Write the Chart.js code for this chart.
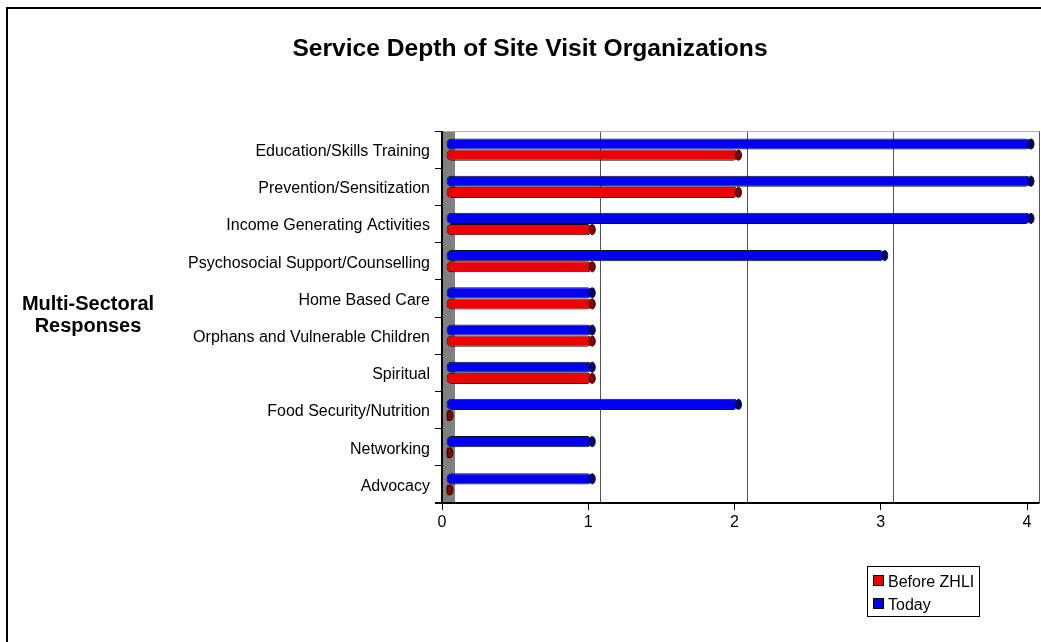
<!DOCTYPE html>
<html>
<head>
<meta charset="utf-8">
<script src="https://cdn.jsdelivr.net/npm/chart.js@4.4.1/dist/chart.umd.min.js"></script>
<style>
  html, body { margin: 0; padding: 0; background: #ffffff; }
  #wrap { position: relative; width: 1041px; height: 642px; }
  canvas { display: block; }
</style>
</head>
<body>
<div id="wrap"><canvas id="c" width="1041" height="642"></canvas></div>
<script>
const chartTitle = 'Service Depth of Site Visit Organizations';
const axisTitleLines = ['Multi-Sectoral', 'Responses'];
const categories = [
  'Education/Skills Training',
  'Prevention/Sensitization',
  'Income Generating Activities',
  'Psychosocial Support/Counselling',
  'Home Based Care',
  'Orphans and Vulnerable Children',
  'Spiritual',
  'Food Security/Nutrition',
  'Networking',
  'Advocacy'
];
const todayValues  = [4, 4, 4, 3, 1, 1, 1, 2, 1, 1];
const beforeValues = [2, 2, 1, 1, 1, 1, 1, 0, 0, 0];
const xTickValues = [0, 1, 2, 3, 4];
const seriesNames = ['Today', 'Before ZHLI'];

const FONT = "'Liberation Sans', Arial, sans-serif";
const DEPTH = 12;   // 3D back-plane offset
const BAR_SHIFT = 4;

const decor = {
  id: 'decor',
  beforeDraw(chart) {
    const ctx = chart.ctx;
    ctx.save();
    ctx.fillStyle = '#ffffff';
    ctx.fillRect(0, 0, chart.width, chart.height);
    // outer frame
    ctx.strokeStyle = '#000';
    ctx.lineWidth = 2;
    ctx.beginPath();
    ctx.moveTo(7, chart.height + 2);
    ctx.lineTo(7, 8);
    ctx.lineTo(chart.width + 2, 8);
    ctx.stroke();
    // title
    ctx.fillStyle = '#000';
    ctx.font = 'bold 24.6px ' + FONT;
    ctx.textAlign = 'center';
    ctx.textBaseline = 'alphabetic';
    ctx.fillText(chartTitle, 530, 56);
    // y-axis title (horizontal)
    ctx.font = 'bold 20px ' + FONT;
    ctx.fillText(axisTitleLines[0], 88, 310);
    ctx.fillText(axisTitleLines[1], 88, 332);
    ctx.restore();
  },
  beforeDatasetsDraw(chart) {
    const ctx = chart.ctx;
    const a = chart.chartArea;
    const xs = chart.scales.x;
    ctx.save();
    // floor / wall strip
    ctx.fillStyle = '#808080';
    ctx.fillRect(a.left, a.top, DEPTH + 1, a.bottom - a.top);
    // back-plane gridlines
    ctx.lineWidth = 1;
    xTickValues.slice(1).forEach(v => {
      const px = Math.round(xs.getPixelForValue(v) + DEPTH) + 0.5;
      ctx.strokeStyle = '#555';
      ctx.beginPath();
      ctx.moveTo(px, a.top);
      ctx.lineTo(px, a.bottom);
      ctx.stroke();
    });
    // top edge of back plane
    const rightEdge = Math.round(xs.getPixelForValue(xTickValues[xTickValues.length - 1]) + DEPTH) + 0.5;
    ctx.strokeStyle = '#b0b0b0';
    ctx.beginPath();
    ctx.moveTo(a.left, Math.round(a.top) + 0.5);
    ctx.lineTo(rightEdge, Math.round(a.top) + 0.5);
    ctx.stroke();
    // axis lines
    ctx.strokeStyle = '#000';
    ctx.lineWidth = 2;
    ctx.beginPath();
    ctx.moveTo(a.left - 7, a.bottom);
    ctx.lineTo(rightEdge, a.bottom);
    ctx.moveTo(a.left, a.top);
    ctx.lineTo(a.left, a.bottom);
    ctx.stroke();
    ctx.restore();
    // shift bars (3D depth)
    ctx.save();
    ctx.translate(BAR_SHIFT, 0);
  },
  afterDatasetsDraw(chart) {
    const ctx = chart.ctx;
    // end caps (dark ellipses) at bar ends
    chart.data.datasets.forEach((ds, di) => {
      const meta = chart.getDatasetMeta(di);
      meta.data.forEach(el => {
        const p = el.getProps(['x', 'y', 'base', 'height'], true);
        const h = p.height;
        ctx.beginPath();
        ctx.ellipse(p.x, p.y, 3, h / 2 - 0.5, 0, 0, Math.PI * 2);
        ctx.fillStyle = ds.capColor;
        ctx.fill();
        ctx.strokeStyle = '#111';
        ctx.lineWidth = 1;
        ctx.stroke();
      });
    });
    ctx.restore();
    // legend
    ctx.save();
    const lx = 867, ly = 566, lw = 112, lh = 50;
    ctx.fillStyle = '#fff';
    ctx.fillRect(lx, ly, lw, lh);
    ctx.strokeStyle = '#000';
    ctx.lineWidth = 1;
    ctx.strokeRect(lx + 0.5, ly + 0.5, lw, lh);
    ctx.font = '16px ' + FONT;
    ctx.textAlign = 'left';
    ctx.textBaseline = 'alphabetic';
    const order = [1, 0];
    order.forEach((di, i) => {
      const ds = chart.data.datasets[di];
      const y = ly + 9 + i * 23;
      ctx.fillStyle = ds.backgroundColor;
      ctx.fillRect(lx + 6.5, y + 0.5, 10, 10);
      ctx.strokeStyle = '#000';
      ctx.strokeRect(lx + 6.5, y + 0.5, 10, 10);
      ctx.fillStyle = '#000';
      ctx.fillText(ds.label, lx + 21, y + 12);
    });
    ctx.restore();
  }
};

new Chart(document.getElementById('c'), {
  type: 'bar',
  data: {
    labels: categories,
    datasets: [
      {
        label: seriesNames[0],
        data: todayValues,
        backgroundColor: '#0000f0',
        borderColor: '#111',
        borderWidth: 1,
        borderRadius: 5,
        borderSkipped: false,
        capColor: '#00007a',
        minBarLength: 4,
        clip: false
      },
      {
        label: seriesNames[1],
        data: beforeValues,
        backgroundColor: '#ee0000',
        borderColor: '#111',
        borderWidth: 1,
        borderRadius: 5,
        borderSkipped: false,
        capColor: '#8a0000',
        minBarLength: 4,
        clip: false
      }
    ]
  },
  options: {
    indexAxis: 'y',
    responsive: false,
    animation: false,
    devicePixelRatio: 1,
    categoryPercentage: 0.6,
    barPercentage: 1.0,
    layout: { padding: { top: 131, right: 14, bottom: 99, left: 0 } },
    plugins: {
      legend: { display: false },
      title: { display: false },
      tooltip: { enabled: false }
    },
    scales: {
      x: {
        min: 0,
        max: 4,
        afterBuildTicks(s) { s.ticks = xTickValues.map(v => ({ value: v })); },
        ticks: { color: '#000', font: { family: FONT, size: 16 }, padding: 3 },
        grid: { drawOnChartArea: false, drawTicks: true, tickLength: 7, color: '#000', lineWidth: 1 },
        border: { display: false },
        afterFit(s) { s.height = 40; }
      },
      y: {
        ticks: { color: '#000', font: { family: FONT, size: 16 }, padding: 5, autoSkip: false, labelOffset: 2 },
        grid: { drawOnChartArea: false, drawTicks: true, tickLength: 7, color: '#000', offset: true, lineWidth: 1 },
        border: { display: false },
        afterFit(s) { s.width = 442; }
      }
    }
  },
  plugins: [decor]
});
</script>
</body>
</html>
